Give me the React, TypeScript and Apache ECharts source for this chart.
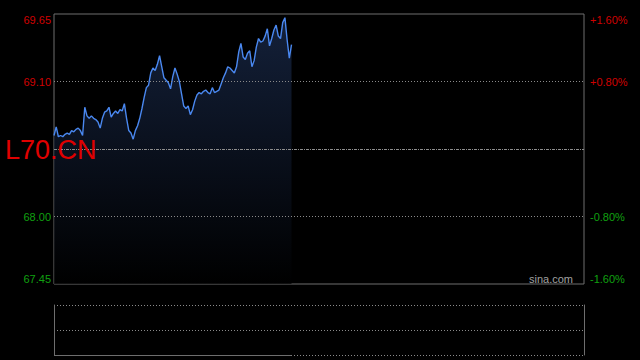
import React, { useEffect, useRef } from 'react';
import * as echarts from 'echarts';

const symbolName = 'L70.CN';
const watermark = 'sina.com';
const prevClose = 68.55;
const priceMin = 67.45;
const priceMax = 69.65;
const priceTicks = [67.45, 68.0, 69.1, 69.65];
const slotCount = 242;
const prices = [
  68.66, 68.73, 68.65, 68.66, 68.65, 68.67, 68.68, 68.67, 68.7, 68.69,
  68.71, 68.72, 68.7, 68.66, 68.89, 68.82, 68.8, 68.82, 68.8, 68.79,
  68.77, 68.72, 68.8, 68.85, 68.86, 68.89, 68.81, 68.84, 68.86, 68.84,
  68.87, 68.86, 68.92, 68.8, 68.7, 68.68, 68.63, 68.7, 68.74, 68.8,
  68.88, 68.97, 69.05, 69.07, 69.17, 69.21, 69.19, 69.24, 69.31, 69.22,
  69.13, 69.11, 69.09, 69.04, 69.14, 69.21, 69.16, 69.1, 69.0, 68.9,
  68.88, 68.9, 68.83, 68.87, 68.94, 68.99, 69.01, 69.0, 69.02, 69.03,
  69.01, 69.0, 69.05, 69.01, 69.02, 69.03, 69.08, 69.13, 69.17, 69.22,
  69.21, 69.19, 69.17, 69.22, 69.34, 69.41, 69.3, 69.28, 69.33, 69.35,
  69.22, 69.27, 69.38, 69.45, 69.42, 69.43, 69.47, 69.53, 69.39, 69.45,
  69.52, 69.56, 69.47, 69.45, 69.58, 69.62, 69.44, 69.29, 69.4,
];
const gridLevels = [69.1, 68.0];

const RED = '#d00000';
const GREEN = '#10a010';
const BORDER = '#6e6e6e';
const DOT = '#8a8a8a';

export default function App() {
  const ref = useRef<HTMLDivElement>(null);

  useEffect(() => {
    document.body.style.margin = '0';
    document.body.style.background = '#000';
    if (!ref.current) return;
    const chart = echarts.init(ref.current, null, { renderer: 'svg' });
    const cats = Array.from({ length: slotCount }, (_, i) => String(i));
    const pct = (v: number) => {
      const p = ((v - prevClose) / prevClose) * 100;
      return (p > 0 ? '+' : '') + p.toFixed(2) + '%';
    };
    const labelColor = (v: any) => (parseFloat(v) > prevClose ? RED : GREEN);

    chart.setOption({
      animation: false,
      backgroundColor: '#000',
      grid: [
        { left: 54, top: 14, width: 530, height: 270, show: true, borderColor: BORDER, borderWidth: 1, backgroundColor: 'transparent' },
        { left: 54, top: 305, width: 530, height: 50, show: false },
      ],
      xAxis: [
        { type: 'category', gridIndex: 0, data: cats, boundaryGap: false, show: false },
        { type: 'category', gridIndex: 1, data: cats, boundaryGap: false, show: false },
      ],
      yAxis: [
        {
          type: 'value', gridIndex: 0, min: priceMin, max: priceMax, position: 'left',
          axisLine: { show: false }, axisTick: { show: false }, splitLine: { show: false },
          axisLabel: {
            customValues: priceTicks,
            formatter: (v: number) => Number(v).toFixed(2),
            color: labelColor,
            fontSize: 11,
            fontFamily: 'Arial, "Liberation Sans", sans-serif',
            margin: 3,
            verticalAlignMinLabel: 'bottom',
            verticalAlignMaxLabel: 'top',
          },
        },
        {
          type: 'value', gridIndex: 0, min: priceMin, max: priceMax, position: 'right',
          axisLine: { show: false }, axisTick: { show: false }, splitLine: { show: false },
          axisLabel: {
            customValues: priceTicks,
            formatter: (v: number) => pct(Number(v)),
            color: labelColor,
            fontSize: 11,
            fontFamily: 'Arial, "Liberation Sans", sans-serif',
            margin: 6,
            verticalAlignMinLabel: 'bottom',
            verticalAlignMaxLabel: 'top',
          },
        },
        {
          type: 'value', gridIndex: 1, min: 0, max: 2, interval: 1, position: 'left',
          axisLine: { show: true, lineStyle: { color: BORDER, width: 1 } },
          axisTick: { show: false }, axisLabel: { show: false },
          splitLine: { show: true, lineStyle: { color: DOT, type: [1, 2], width: 1 } },
        },
        {
          type: 'value', gridIndex: 1, min: 0, max: 2, interval: 1, position: 'right',
          axisLine: { show: true, lineStyle: { color: BORDER, width: 1 } },
          axisTick: { show: false }, axisLabel: { show: false }, splitLine: { show: false },
        },
      ],
      series: [
        {
          type: 'line',
          xAxisIndex: 0,
          yAxisIndex: 0,
          data: prices,
          symbol: 'none',
          showSymbol: false,
          lineStyle: { color: '#4a88f0', width: 1.4 },
          areaStyle: {
            origin: 'start',
            color: new echarts.graphic.LinearGradient(0, 0, 0, 1, [
              { offset: 0, color: 'rgba(28,46,82,1)' },
              { offset: 1, color: 'rgba(0,0,0,1)' },
            ]),
          },
          markLine: {
            silent: true,
            symbol: ['none', 'none'],
            label: { show: false },
            data: [
              ...gridLevels.map((y) => ({ yAxis: y, lineStyle: { color: DOT, type: [1, 2], width: 1 } })),
              { yAxis: prevClose, lineStyle: { color: '#8e8e8e', type: [3, 1, 1, 1], width: 1 } },
            ],
          },
        },
        {
          type: 'line',
          xAxisIndex: 1,
          yAxisIndex: 2,
          data: [],
          symbol: 'none',
          markLine: {
            silent: true,
            symbol: ['none', 'none'],
            label: { show: false },
            lineStyle: { color: BORDER, type: 'solid', width: 1 },
            data: [[{ coord: [cats[0], 0] }, { coord: [cats[prices.length - 1], 0] }]],
          },
        },
      ],
      graphic: [
        {
          type: 'text',
          x: 5,
          y: 150,
          z: 100,
          style: {
            text: symbolName,
            fill: '#e00000',
            font: '27px Arial, "Liberation Sans", sans-serif',
            verticalAlign: 'middle',
          },
        },
        {
          type: 'text',
          x: 573,
          y: 279,
          z: 100,
          style: {
            text: watermark,
            fill: '#a0a0a0',
            font: '11px Arial, "Liberation Sans", sans-serif',
            align: 'right',
            verticalAlign: 'middle',
          },
        },
      ],
    });
    return () => chart.dispose();
  }, []);

  return <div ref={ref} style={{ width: 640, height: 360, background: '#000' }} />;
}
